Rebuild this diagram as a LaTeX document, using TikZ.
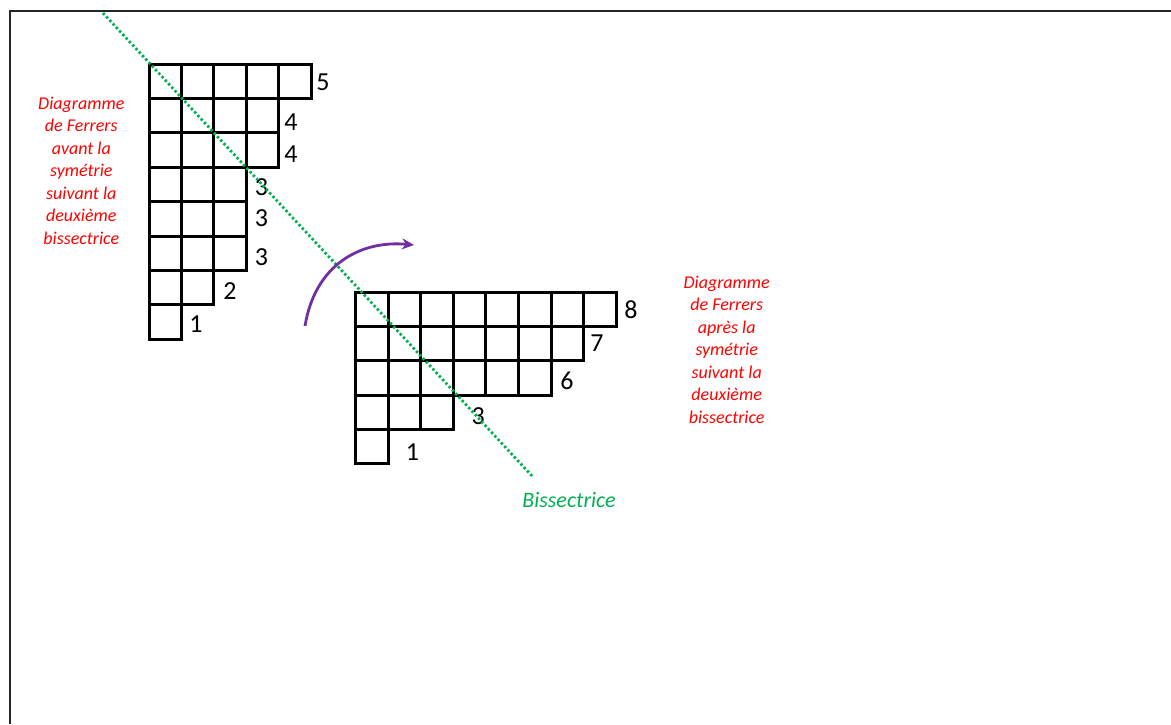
\documentclass[tikz,border=0pt]{standalone}
\usepackage{fontspec}
\setmainfont{Carlito}
\usetikzlibrary{arrows.meta}
\definecolor{ferred}{HTML}{FF0000}
\definecolor{bisgreen}{HTML}{00B050}
\definecolor{arcpurple}{HTML}{7030A0}
\begin{document}
\begin{tikzpicture}[x=1pt,y=-1pt,
  cell/.style={draw=black, line width=3pt},
  num/.style={font=\fontsize{26}{26}\selectfont, anchor=base, inner sep=0pt},
  note/.style={text=ferred, font=\fontsize{18}{22.5}\selectfont\itshape, align=center, inner sep=0pt, anchor=north},
  frame/.style={line width=2pt, draw=black!85},
  bis/.style={draw=bisgreen, line width=2.8pt, dash pattern=on 2.4pt off 2.4pt},
  flip/.style={draw=arcpurple, line width=2.8pt, -{Stealth[length=12pt,width=11pt]}},
]
\useasboundingbox (0,0) rectangle (1171,724);
\draw[frame] (10,724) -- (10,11) -- (1171,11);

% left Ferrers diagram (5,4,4,3,3,3,2,1)
\foreach \r/\n in {0/5,1/4,2/4,3/3,4/3,5/3,6/2,7/1} {
  \foreach \c in {1,...,\n} {
    \draw[cell] ({149+(\c-1)*32.4},{64+\r*34.4}) rectangle ++(32.4,34.4);
  }
}
% right Ferrers diagram (8,7,6,3,1)
\foreach \r/\n in {0/8,1/7,2/6,3/3,4/1} {
  \foreach \c in {1,...,\n} {
    \draw[cell] ({355.7+(\c-1)*32.55},{292.7+\r*34.1}) rectangle ++(32.55,34.1);
  }
}

% row lengths, left
\node[num] (l1) at (323,90) {5};
\node[num] (l2) at (291,130.7) {4};
\node[num] (l3) at (291,162.7) {4};
\node[num] (l4) at (261.5,195) {3};
\node[num] (l5) at (261.5,226.7) {3};
\node[num] (l6) at (261.5,265.7) {3};
\node[num] (l7) at (230,299) {2};
\node[num] (l8) at (196,332.7) {1};
% row lengths, right
\node[num] (r1) at (631,318.3) {8};
\node[num] (r2) at (597,351.7) {7};
\node[num] (r3) at (567,389) {6};
\node[num] (r4) at (478.3,424) {3};
\node[num] (r5) at (412.5,460) {1};

% captions
\node[note] (capL) at (81.3,96.5) {Diagramme\\de Ferrers\\avant la\\symétrie\\suivant la\\deuxième\\bissectrice};
\node[note] (capR) at (726.7,275.5) {Diagramme\\de Ferrers\\après la\\symétrie\\suivant la\\deuxième\\bissectrice};

% bisector
\coordinate (bA) at (103,13);
\coordinate (bB) at (533,477);
\draw[bis] (bA) -- (bB);
\node[text=bisgreen, font=\fontsize{22}{22}\selectfont\itshape, anchor=base, inner sep=0pt] (bisl) at (569,507.3) {Bissectrice};

% symmetry arrow
\coordinate (aS) at (305,326);
\coordinate (aE) at (414,245);
\draw[flip] (aS) .. controls (315,265) and (360,240) .. (aE);
\end{tikzpicture}
\end{document}
